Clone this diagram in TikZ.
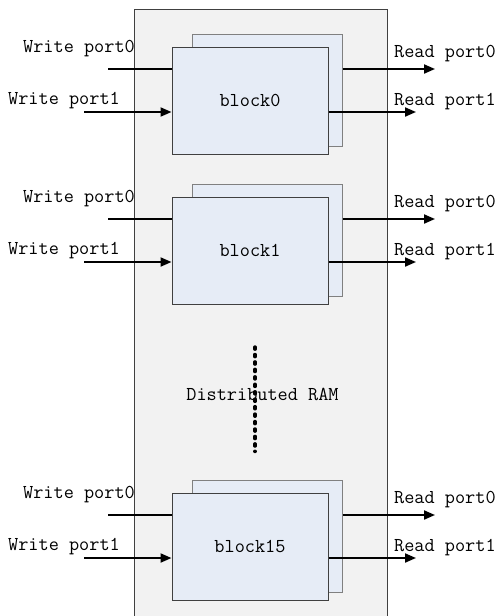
\documentclass[tikz,border=0pt]{standalone}
\usepackage{fontspec}
\usetikzlibrary{arrows.meta}
\definecolor{ramfill}{HTML}{F2F2F2}
\definecolor{blockfill}{HTML}{E6ECF6}
\definecolor{edgedark}{HTML}{404040}
\definecolor{edgegray}{HTML}{808080}
\tikzset{
  portlbl/.style={font=\ttfamily\fontsize{19.7}{22}\selectfont, inner sep=0pt, anchor=base west},
  ramlbl/.style={font=\ttfamily\fontsize{19.7}{22}\selectfont, inner sep=0pt, anchor=base},
  backbox/.style={draw=edgegray, fill=blockfill, line width=1pt, minimum width=150pt, minimum height=112pt, inner sep=0pt},
  frontbox/.style={draw=edgedark, fill=blockfill, line width=1pt, minimum width=156pt, minimum height=107pt, inner sep=0pt,
    font=\ttfamily\fontsize{19.7}{22}\selectfont},
  sig/.style={line width=2pt, -{Triangle[length=11pt,width=9pt]}},
}
\begin{document}
\begin{tikzpicture}[x=1pt,y=-1pt]
\useasboundingbox (0,0) rectangle (499,616);
% RAM outline, running past the lower edge
\begin{scope}
  \clip (0,0) rectangle (499,616);
  \node[draw=edgedark, fill=ramfill, line width=1pt, inner sep=0pt, minimum width=253pt, minimum height=632pt, anchor=north west] (ram) at (133.5,8.5) {};
\end{scope}
% memory blocks with their write and read ports
\foreach \i/\dy/\name in {0/0/block0, 1/150/block1, 15/446/block15}{
  \node[backbox] (back\i) at (267, 90+\dy) {};
  \coordinate (wa\i) at (108, 69+\dy);
  \draw[sig] (wa\i) -- (wa\i -| back\i.west);
  \coordinate (ra\i) at (435, 69+\dy);
  \draw[sig] (ra\i -| back\i.east) -- (ra\i);
  \node[frontbox] (blk\i) at (250, 100.5+\dy) {\name};
  \coordinate (wb\i) at (84, 112+\dy);
  \draw[sig] (wb\i) -- (wb\i -| blk\i.west);
  \coordinate (rb\i) at (416, 112+\dy);
  \draw[sig] (rb\i -| blk\i.east) -- (rb\i);
  \node[portlbl] (wl0\i) at (23, 52+\dy) {Write port0};
  \node[portlbl] (wl1\i) at (8, 104+\dy) {Write port1};
  \node[portlbl] (rl0\i) at (394, 57+\dy) {Read port0};
  \node[portlbl] (rl1\i) at (394, 105+\dy) {Read port1};
}
% omitted blocks
\coordinate (dtop) at (255,347);
\coordinate (dbot) at (255,451.5);
\draw[line width=3.4pt, line cap=round, dash pattern=on 2.2pt off 5.25pt] (dtop) -- (dbot);
\node[ramlbl] (ramname) at (262.5,400) {Distributed RAM};
\end{tikzpicture}
\end{document}
